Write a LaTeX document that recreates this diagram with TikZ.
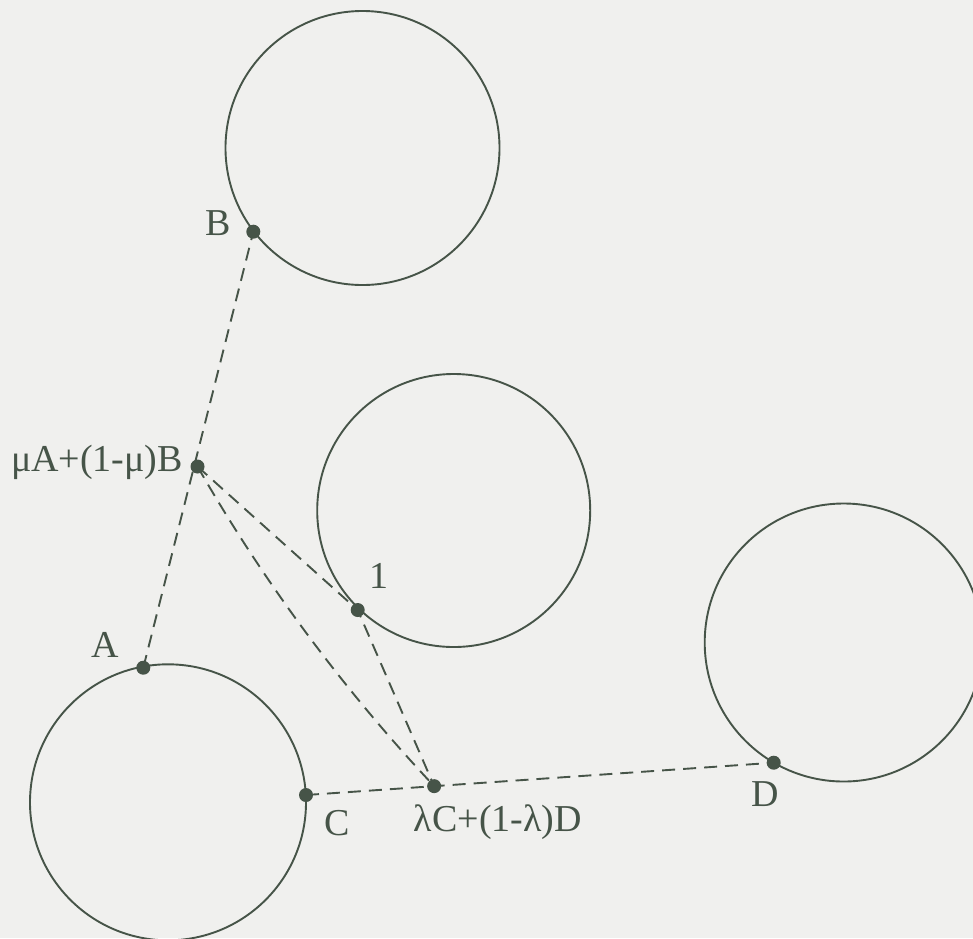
\documentclass[tikz,border=0pt]{standalone}
\usepackage{fontspec}
\setmainfont{Liberation Serif}
\usetikzlibrary{calc}
\definecolor{bg}{RGB}{240,240,238}
\definecolor{ink}{RGB}{70,84,72}
\begin{document}
\begin{tikzpicture}[x=1pt,y=-1pt,
  ring/.style={draw=ink,line width=1.9pt},
  dashline/.style={draw=ink,line width=1.9pt,dash pattern=on 13pt off 8pt},
  dotmark/.style={fill=ink},
  lbl/.style={text=ink,inner sep=0pt,font=\fontsize{38}{42}\selectfont}]
\fill[bg] (0,0) rectangle (973,938);
\useasboundingbox (0,0) rectangle (973,938);
% circles
\draw[ring] (362.5,148) circle (137);
\draw[ring] (453.7,510.5) circle (136.5);
\draw[ring] (843.7,642.5) circle (139);
\draw[ring] (168,802.3) circle (138);
% points
\coordinate (A) at (143.3,667.7);
\coordinate (B) at (253.3,231.7);
\coordinate (C) at (306,795);
\coordinate (D) at (773.7,762.7);
\coordinate (M) at (197.5,466.5);
\coordinate (L) at ($(C)!0.274!(D)$);
\coordinate (P) at (357.7,610);
% connectors
\draw[dashline] (A) -- (B);
\draw[dashline] (C) -- (D);
\draw[dashline] (M) -- (P) -- (L);
\draw[dashline] (M) .. controls ($(M)!0.3333!(L)+(-12.5,9.2)$) and ($(M)!0.6667!(L)+(-12.5,9.2)$) .. (L);
% dots
\foreach \p in {A,B,C,D,M,L,P} \fill[dotmark] (\p) circle (7);
% labels
\node[lbl,anchor=base] (lA) at (105,657) {A};
\node[lbl,anchor=base] (lB) at (218.3,235) {B};
\node[lbl,anchor=base] (lC) at (337,835) {C};
\node[lbl,anchor=base] (lD) at (765.7,806) {D};
\node[lbl,anchor=base] (lP) at (379,588) {1};
\node[lbl,anchor=base] (lM) at (97,471.5) {μA+(1-μ)B};
\node[lbl,anchor=base] (lL) at (498,831.5) {λC+(1-λ)D};
\end{tikzpicture}
\end{document}
